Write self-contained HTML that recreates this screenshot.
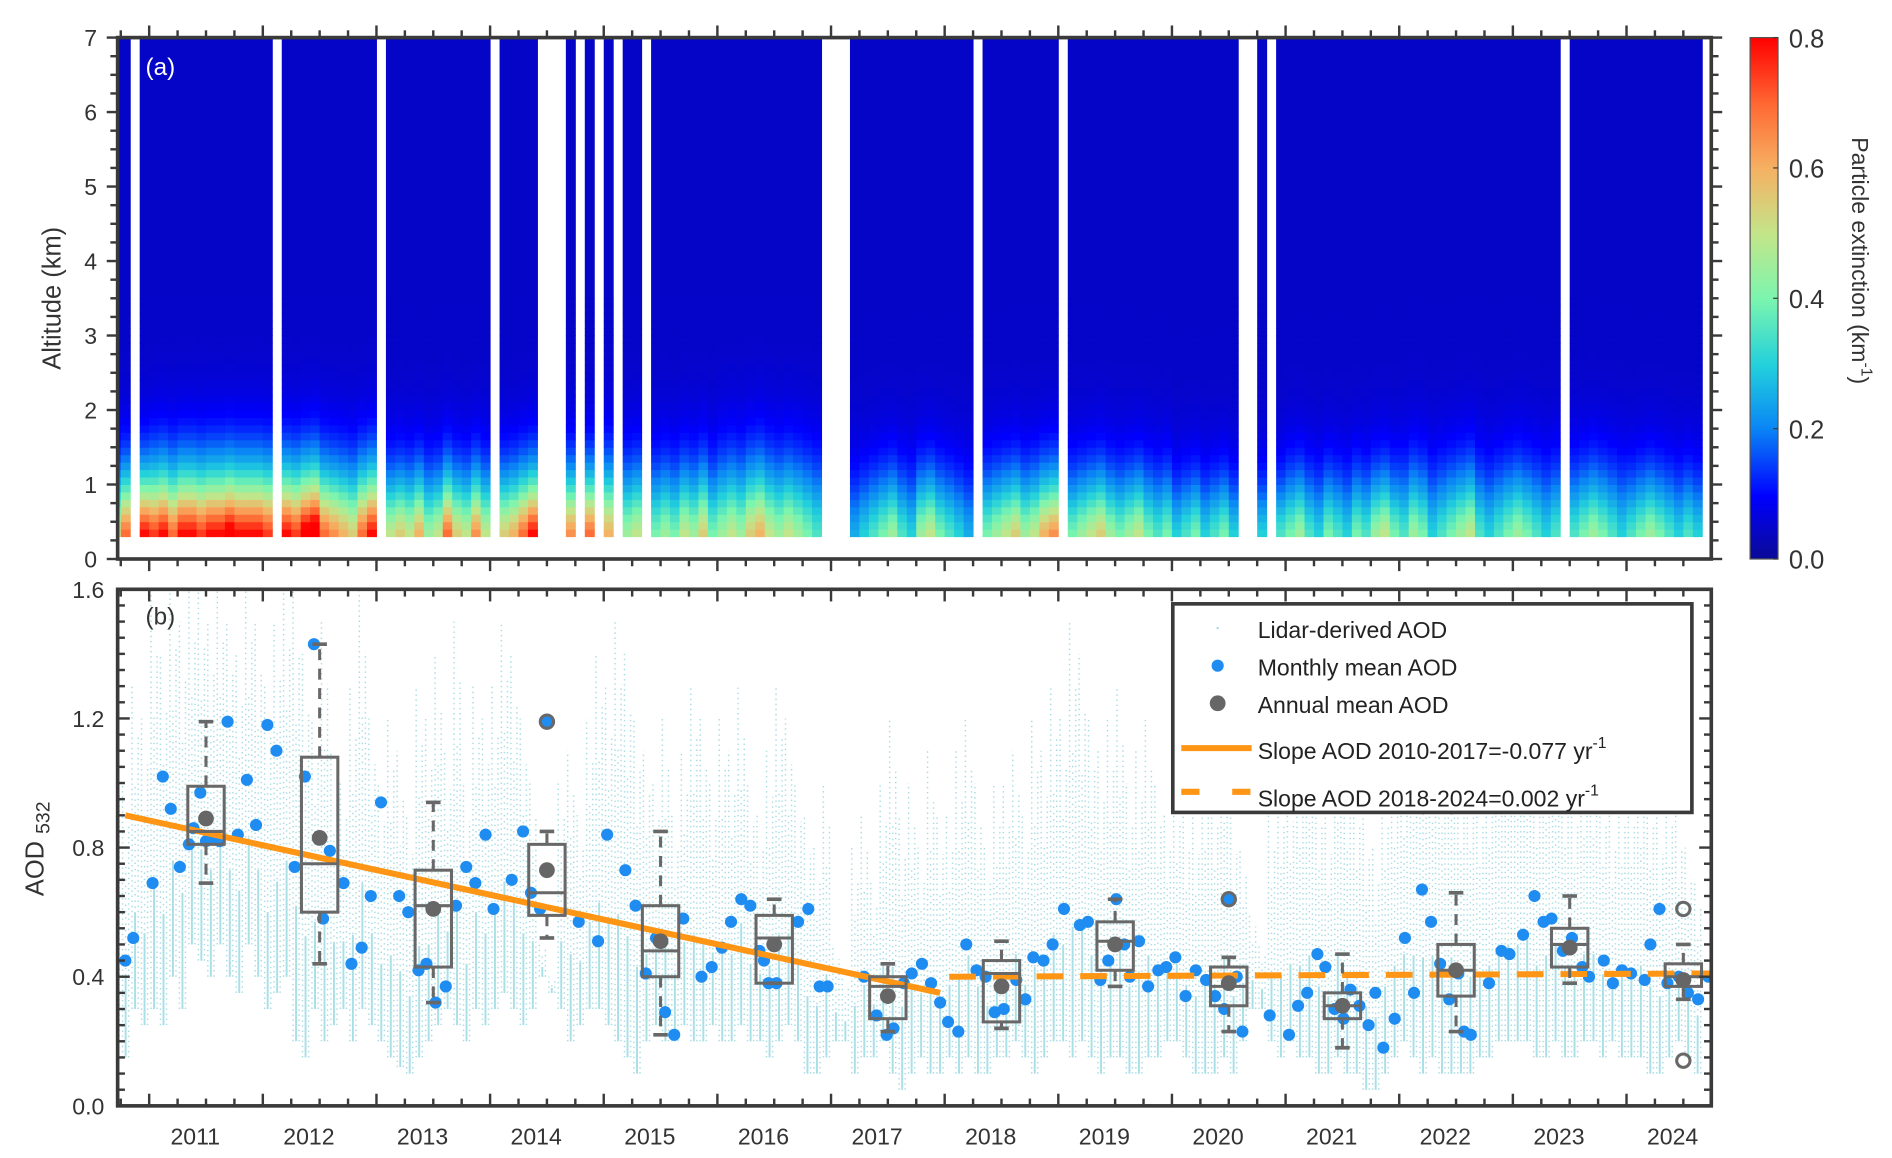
<!DOCTYPE html>
<html><head><meta charset="utf-8">
<style>
html,body{margin:0;padding:0;background:#fff;}
svg{display:block;font-family:"Liberation Sans",sans-serif;}
</style></head>
<body>
<svg id="chart" width="1892" height="1158" viewBox="0 0 1560 955" preserveAspectRatio="none" xmlns="http://www.w3.org/2000/svg">
<defs>
<clipPath id="clipA"><rect x="97" y="31" width="1314" height="430"/></clipPath>
<clipPath id="clipB"><rect x="97" y="486" width="1314" height="426"/></clipPath>
<linearGradient id="cbGrad" x1="0" y1="1" x2="0" y2="0">
<stop offset="0" stop-color="#0a0a96"/><stop offset="0.12" stop-color="#0000ff"/><stop offset="0.25" stop-color="#0a86f5"/><stop offset="0.37" stop-color="#22d0dc"/><stop offset="0.5" stop-color="#7cf5ae"/><stop offset="0.62" stop-color="#c2e68a"/><stop offset="0.75" stop-color="#f6b062"/><stop offset="0.87" stop-color="#ff6a34"/><stop offset="1" stop-color="#ff0000"/>
</linearGradient>
</defs>
<g id="heat" clip-path="url(#clipA)"></g>
<g id="lidar" clip-path="url(#clipB)"></g>
<g id="marks" clip-path="url(#clipB)"></g>
<g id="axes"></g>
</svg>
<script>
// ---------- data ----------
const monthStart = 2010 + 8/12; // Sep 2010
const surface = [0.5,0.7,null,0.8,0.75,0.8,0.7,0.8,0.8,0.75,0.8,0.8,0.85,0.8,0.8,0.8,0.75,
 null,0.8,0.75,0.85,0.9,0.7,0.65,0.6,0.55,0.7,0.8,
 null,0.5,0.55,0.5,0.6,0.45,0.5,0.7,0.55,0.5,0.65,0.5,
 null,0.55,0.6,0.7,0.8,null,null,null,0.65,null,0.7,null,0.6,null,0.45,0.5,null,
 0.4,0.45,0.4,0.5,0.45,0.55,0.4,0.45,0.5,0.45,0.55,0.6,0.5,0.45,0.5,0.45,0.4,0.35,
 null,null,null,
 0.25,0.3,0.35,0.4,0.45,0.35,0.3,0.45,0.5,0.4,0.35,0.3,0.25,
 null,0.4,0.45,0.5,0.55,0.45,0.5,0.6,0.65,
 null,0.4,0.45,0.5,0.55,0.45,0.4,0.45,0.5,0.4,0.35,0.4,0.3,0.35,0.4,0.3,0.35,0.4,0.3,
 null,null,0.3,null,
 0.35,0.4,0.45,0.35,0.3,0.4,0.35,0.3,0.4,0.35,0.45,0.5,0.4,0.35,0.45,0.4,0.3,0.35,0.4,0.45,0.5,0.35,0.3,0.35,0.4,0.45,0.4,0.35,0.3,0.35,
 null,0.35,0.4,0.45,0.4,0.35,0.3,0.35,0.4,0.45,0.4,0.35,0.3,0.35,0.3];
const layerYears = [2010,2011,2012,2013,2014,2015,2016,2017,2018,2019,2020,2021,2022,2023,2024];
const layerDepth = [0.8,0.85,0.85,0.8,0.8,0.85,0.9,0.8,0.8,0.8,0.75,0.8,0.85,0.85,0.8];
const background = 0.045;

const lidarHi = [1.1,1.0,1.3,1.2,
 1.6,1.4,1.6,1.5,1.6,1.6,1.5,1.6,1.5,1.4,1.6,1.5,
 1.3,1.5,1.6,1.6,1.4,1.2,1.5,1.1,1.0,1.3,1.6,1.2,
 1.0,1.2,1.1,0.9,1.3,1.2,1.4,1.1,1.5,1.0,1.3,1.2,
 1.3,1.5,1.4,1.2,1.0,0.5,0.4,1.0,1.1,0.9,1.2,1.4,
 1.3,1.5,1.4,1.2,1.1,1.0,1.2,0.9,1.1,1.3,1.2,1.0,
 1.2,1.1,1.3,1.0,0.9,1.1,1.3,1.2,1.0,0.9,0.8,1.0,
 0.5,0.4,0.8,0.9,0.7,1.0,1.2,0.9,1.0,0.8,1.1,0.9,
 0.9,1.1,1.2,1.0,0.8,1.0,1.0,1.1,0.9,1.2,1.1,1.3,
 1.2,1.5,1.4,1.2,1.1,1.2,1.3,1.0,1.1,1.2,1.0,0.9,
 1.0,0.9,0.9,1.1,1.0,1.2,0.9,0.8,0.6,0.5,0.9,1.0,
 1.0,1.1,1.2,1.0,0.9,1.2,1.1,1.0,0.9,0.8,1.0,1.1,
 1.1,1.2,1.3,1.2,1.2,1.3,1.1,1.1,1.0,1.1,1.2,1.2,
 1.2,1.3,1.1,1.2,1.2,1.1,1.0,1.1,1.1,1.0,0.9,1.0,
 1.0,1.1,1.0,0.9,1.0,0.9,0.8,0.7];
const lidarLo = [0.2,0.15,0.3,0.25,
 0.3,0.25,0.4,0.3,0.5,0.45,0.4,0.5,0.4,0.35,0.5,0.4,
 0.3,0.35,0.4,0.2,0.15,0.3,0.2,0.25,0.3,0.2,0.3,0.25,
 0.2,0.15,0.12,0.1,0.15,0.2,0.25,0.3,0.25,0.2,0.3,0.25,
 0.3,0.35,0.3,0.25,0.3,0.4,0.35,0.3,0.2,0.25,0.3,0.3,
 0.25,0.2,0.15,0.1,0.2,0.25,0.2,0.2,0.25,0.2,0.2,0.25,
 0.2,0.2,0.25,0.2,0.2,0.15,0.2,0.25,0.2,0.1,0.1,0.15,
 0.2,0.2,0.1,0.15,0.15,0.2,0.1,0.05,0.1,0.15,0.1,0.1,
 0.15,0.1,0.15,0.1,0.1,0.15,0.15,0.2,0.15,0.1,0.15,0.2,
 0.2,0.15,0.2,0.15,0.1,0.15,0.15,0.1,0.1,0.15,0.15,0.2,
 0.2,0.15,0.1,0.1,0.1,0.15,0.1,0.2,0.3,0.3,0.2,0.15,
 0.2,0.15,0.15,0.1,0.1,0.15,0.1,0.1,0.05,0.05,0.1,0.15,
 0.2,0.15,0.1,0.15,0.1,0.1,0.1,0.1,0.15,0.15,0.2,0.2,
 0.2,0.2,0.15,0.15,0.2,0.15,0.15,0.2,0.2,0.15,0.2,0.15,
 0.15,0.15,0.1,0.1,0.15,0.2,0.15,0.1];

const monthT = [2010.79,2010.86,2011.03,2011.12,2011.19,2011.27,2011.35,2011.39,2011.45,2011.50,2011.58,2011.62,2011.69,2011.78,2011.86,2011.94,
 2012.04,2012.12,2012.28,2012.37,2012.45,2012.53,2012.59,2012.71,2012.78,2012.87,2012.95,
 2013.04,2013.20,2013.28,2013.37,2013.44,2013.52,2013.61,2013.70,2013.79,2013.87,2013.96,
 2014.03,2014.19,2014.29,2014.36,2014.44,2014.50,2014.78,2014.95,
 2015.03,2015.19,2015.28,2015.37,2015.46,2015.54,2015.62,2015.70,2015.86,2015.95,
 2016.04,2016.12,2016.21,2016.29,2016.37,2016.41,2016.45,2016.52,2016.71,2016.80,2016.90,2016.97,
 2017.29,2017.40,2017.49,2017.55,2017.64,2017.71,2017.80,2017.88,2017.96,
 2018.03,2018.12,2018.19,2018.28,2018.36,2018.44,2018.52,2018.63,2018.71,2018.78,2018.87,2018.95,
 2019.05,2019.19,2019.26,2019.37,2019.44,2019.51,2019.58,2019.63,2019.71,2019.79,2019.88,2019.95,
 2020.03,2020.12,2020.21,2020.30,2020.38,2020.46,2020.50,2020.57,2020.62,2020.86,
 2021.03,2021.11,2021.19,2021.28,2021.35,2021.43,2021.51,2021.57,2021.65,2021.73,2021.79,2021.86,2021.96,
 2022.05,2022.13,2022.20,2022.28,2022.36,2022.44,2022.52,2022.57,2022.63,2022.79,2022.90,2022.97,
 2023.09,2023.19,2023.27,2023.34,2023.44,2023.52,2023.61,2023.67,2023.80,2023.88,2023.96,
 2024.04,2024.16,2024.21,2024.29,2024.36,2024.46,2024.54,2024.63,2024.72];
const monthAOD = [0.45,0.52,0.69,1.02,0.92,0.74,0.81,0.86,0.97,0.82,0.83,0.82,1.19,0.84,1.01,0.87,
 1.18,1.10,0.74,1.02,1.43,0.58,0.79,0.69,0.44,0.49,0.65,
 0.94,0.65,0.60,0.42,0.44,0.32,0.37,0.62,0.74,0.69,0.84,
 0.61,0.70,0.85,0.66,0.61,1.19,0.57,0.51,
 0.84,0.73,0.62,0.41,0.52,0.29,0.22,0.58,0.40,0.43,
 0.49,0.57,0.64,0.62,0.48,0.45,0.38,0.38,0.57,0.61,0.37,0.37,
 0.40,0.28,0.22,0.24,0.38,0.41,0.44,0.38,0.32,
 0.26,0.23,0.50,0.42,0.40,0.29,0.30,0.39,0.33,0.46,0.45,0.50,
 0.61,0.56,0.57,0.39,0.45,0.64,0.50,0.40,0.51,0.37,0.42,0.43,
 0.46,0.34,0.42,0.39,0.34,0.30,0.64,0.40,0.23,0.28,
 0.22,0.31,0.35,0.47,0.43,0.30,0.27,0.36,0.31,0.25,0.35,0.18,0.27,
 0.52,0.35,0.67,0.57,0.44,0.33,0.41,0.23,0.22,0.38,0.48,0.47,
 0.53,0.65,0.57,0.58,0.48,0.52,0.43,0.40,0.45,0.38,0.42,
 0.41,0.39,0.50,0.61,0.38,0.40,0.35,0.33,0.40];

const boxYears = [2011,2012,2013,2014,2015,2016,2017,2018,2019,2020,2021,2022,2023,2024];
const boxQ1 = [0.81,0.60,0.43,0.59,0.40,0.38,0.27,0.26,0.42,0.31,0.27,0.34,0.43,0.37];
const boxQ3 = [0.99,1.08,0.73,0.81,0.62,0.59,0.40,0.45,0.57,0.43,0.35,0.50,0.55,0.44];
const boxMedian = [0.85,0.75,0.62,0.66,0.48,0.52,0.37,0.41,0.51,0.37,0.31,0.42,0.50,0.40];
const annualMean = [0.89,0.83,0.61,0.73,0.51,0.50,0.34,0.37,0.50,0.38,0.31,0.42,0.49,0.39];
const whiskerLo = [0.69,0.44,0.32,0.52,0.22,0.38,0.23,0.24,0.37,0.23,0.18,0.23,0.38,0.33];
const whiskerHi = [1.19,1.43,0.94,0.85,0.85,0.64,0.44,0.51,0.64,0.46,0.47,0.66,0.65,0.50];
const outlierT = [2014.5,2020.5,2024.5,2024.5];
const outlierV = [1.19,0.64,0.61,0.14];

const trend1T = [2010.79,2017.96];
const trend1V = [0.90,0.35];
const trend2T = [2018.04,2024.75];
const trend2V = [0.40,0.41];

const xTickYears = [2011,2012,2013,2014,2015,2016,2017,2018,2019,2020,2021,2022,2023,2024];
const altTicks = [0,1,2,3,4,5,6,7];
const aodTicks = [0.0,0.4,0.8,1.2,1.6];
const cbTicks = [0.0,0.2,0.4,0.6,0.8];

// ---------- scales ----------
const X0 = 97, X1 = 1411;
const xs = t => 123 + (t - 2011) * 93.7;
const ya = z => 461 - z * 61.43;
const yb = v => 912 - v * 266.25;
const ycb = v => 461 - v / 0.8 * 430;
const NS = 'http://www.w3.org/2000/svg';
function mk(tag, attrs, parent){ const e=document.createElementNS(NS,tag); for(const k in attrs) e.setAttribute(k,attrs[k]); parent.appendChild(e); return e; }

const stops = [[0,[10,10,150]],[0.12,[0,0,255]],[0.25,[10,134,245]],[0.37,[34,208,220]],[0.5,[124,245,174]],[0.62,[194,230,138]],[0.75,[246,176,98]],[0.87,[255,106,52]],[1,[255,0,0]]];
function cmap(v){
  let f=Math.max(0,Math.min(1,v/0.8));
  for(let i=1;i<stops.length;i++){ if(f<=stops[i][0]){ const a=stops[i-1],b=stops[i]; const u=(f-a[0])/(b[0]-a[0]);
    return 'rgb('+a[1].map((c,j)=>Math.round(c+(b[1][j]-c)*u)).join(',')+')'; } }
  return 'rgb(255,0,0)';
}

// ---------- heatmap ----------
const heat = document.getElementById('heat');
const mw = 93.7/12;
surface.forEach((s,m)=>{
  if(s===null) return;
  const t0 = monthStart + m/12;
  const x = xs(t0);
  const yr = Math.floor(t0 + 0.5/12);
  const depth = layerDepth[Math.max(0, layerYears.indexOf(yr))];
  const col = mk('g',{},heat);
  
  
  const top = mk('rect',{x:x, y:ya(7), width:mw+0.4, height:ya(3.5)-ya(7)+0.4, fill:cmap(background)},col);
  
  
  for(let z=0.3; z<3.5-1e-6; z+=0.1){
    const u = (z+0.05-0.3)/depth;
    const v = background + (s-background)*Math.exp(-Math.pow(u,1.5));
    const r = mk('rect',{x:x, y:ya(z+0.1), width:mw+0.4, height:ya(z)-ya(z+0.1)+0.4, fill:cmap(v)},col);
    
    
  }
});

// ---------- lidar streaks ----------
const lid = document.getElementById('lidar');
lidarHi.forEach((hi,m)=>{
  const lo = lidarLo[m];
  const x = xs(monthStart + m/12);
  for(let k=0;k<3;k++){
    const frac = [1,0.7,0.85][k];
    const l = mk('line',{x1:x+1.5+k*2.5, x2:x+1.5+k*2.5, y1:yb(lo), y2:yb(lo+(hi-lo)*frac), stroke:'#a9dde3', 'stroke-width':1.2, 'stroke-dasharray': k%2? '1.2 4':'1.2 3'},lid);
    
    
  }
  const c = mk('line',{x1:x+4, x2:x+4, y1:yb(lo), y2:yb(lo+(hi-lo)*0.3), stroke:'#aadfe6', 'stroke-width':1.6},lid);
  
  
});

// ---------- marks ----------
const marks = document.getElementById('marks');
monthT.forEach((t,i)=>{
  const d = mk('circle',{cx:xs(t), cy:yb(monthAOD[i]), r:5, fill:'#1e8cf0'},marks);
  
  
});
const tl1 = mk('line',{x1:xs(trend1T[0]),y1:yb(trend1V[0]),x2:xs(trend1T[1]),y2:yb(trend1V[1]),stroke:'#ff9514','stroke-width':5},marks);


const tl2 = mk('line',{x1:xs(trend2T[0]),y1:yb(trend2V[0]),x2:xs(trend2T[1]),y2:yb(trend2V[1]),stroke:'#ff9514','stroke-width':5,'stroke-dasharray':'22 14'},marks);


boxYears.forEach((yv,i)=>{
  const cx = xs(yv+0.5), w=15, gc='#686868';
  const g = mk('g',{},marks);
  
  
  mk('line',{x1:cx,x2:cx,y1:yb(boxQ3[i]),y2:yb(whiskerHi[i]),stroke:gc,'stroke-width':2.5,'stroke-dasharray':'9 7'},g);
  mk('line',{x1:cx,x2:cx,y1:yb(boxQ1[i]),y2:yb(whiskerLo[i]),stroke:gc,'stroke-width':2.5,'stroke-dasharray':'9 7'},g);
  mk('line',{x1:cx-6,x2:cx+6,y1:yb(whiskerHi[i]),y2:yb(whiskerHi[i]),stroke:gc,'stroke-width':3},g);
  mk('line',{x1:cx-6,x2:cx+6,y1:yb(whiskerLo[i]),y2:yb(whiskerLo[i]),stroke:gc,'stroke-width':3},g);
  mk('rect',{x:cx-w,y:yb(boxQ3[i]),width:2*w,height:yb(boxQ1[i])-yb(boxQ3[i]),fill:'none',stroke:gc,'stroke-width':2.5},g);
  mk('line',{x1:cx-w,x2:cx+w,y1:yb(boxMedian[i]),y2:yb(boxMedian[i]),stroke:gc,'stroke-width':2.5},g);
  const am = mk('circle',{cx:cx,cy:yb(annualMean[i]),r:6.5,fill:'#666'},g);
  
  
});
outlierT.forEach((t,i)=>{
  const o = mk('circle',{cx:xs(t),cy:yb(outlierV[i]),r:5.5,fill:'none',stroke:'#686868','stroke-width':2.5},marks);
  
  
});

// ---------- axes ----------
const ax = document.getElementById('axes');
const AC = '#3a3a3a';
function tick(x1,y1,x2,y2,w){ const t=mk('line',{x1,y1,x2,y2,stroke:AC,'stroke-width':w||2},ax);   }
function txt(s,x,y,attrs){ const t=mk('text',Object.assign({x,y,'font-size':19,fill:'#333'},attrs||{}),ax); t.textContent=s; return t; }
for(let q=0;q<=60;q++){
  const t = 2010 + q*0.25; const x = xs(t); if(x<X0||x>X1) continue;
  const major = q%4===0; const L = major?10:6;
  tick(x,31,x,31-L); tick(x,461,x,461+L);
  tick(x,486,x,486+L); tick(x,912,x,912-L);
}
for(let z=0; z<=7.001; z+=0.25){
  const major = Math.abs(z-Math.round(z))<1e-6; const L = major?9:6;
  tick(X0,ya(z),X0-L,ya(z)); tick(X1,ya(z),X1+L,ya(z));
}
for(let v=0; v<=1.6001; v+=0.05){
  const major = Math.abs(v/0.4-Math.round(v/0.4))<1e-6; const L = major?10:6;
  tick(X0,yb(v),X0+L,yb(v)); tick(X1,yb(v),X1-L,yb(v));
}
const fa = mk('rect',{x:X0,y:31,width:X1-X0,height:430,fill:'none',stroke:AC,'stroke-width':3},ax);
 
const fb = mk('rect',{x:X0,y:486,width:X1-X0,height:426,fill:'none',stroke:AC,'stroke-width':3},ax);
 
altTicks.forEach(z=>{ const t=txt(String(z),80,ya(z)+7,{'text-anchor':'end'});   });
aodTicks.forEach(v=>{ const t=txt(v.toFixed(1),86,yb(v)+7,{'text-anchor':'end'});   });
xTickYears.forEach(yv=>{ const t=txt(String(yv),xs(yv)+38,944,{'text-anchor':'middle'});   });
const pa = txt('(a)',120,62,{'font-size':20,fill:'#fff'});  
const pb = txt('(b)',120,515,{'font-size':20});  
const yla = txt('Altitude (km)',0,0,{'font-size':21,'text-anchor':'middle',transform:'translate(50,246) rotate(-90)'});  
const ylb = mk('text',{'font-size':21,fill:'#333','text-anchor':'middle',transform:'translate(36,700) rotate(-90)'},ax);
 
ylb.innerHTML = 'AOD <tspan font-size="16" dy="5">532</tspan>';
const cb = mk('rect',{x:1443,y:31,width:23,height:430,fill:'url(#cbGrad)',stroke:'#555','stroke-width':1},ax);
 
cbTicks.forEach(v=>{ tick(1466,ycb(v),1462,ycb(v),1); const t=txt(v.toFixed(1),1475,ycb(v)+8,{'font-size':21});   });
const cbl = mk('text',{'font-size':19,fill:'#333','text-anchor':'middle',transform:'translate(1527,215) rotate(90)'},ax);
 
cbl.innerHTML = 'Particle extinction (km<tspan font-size="13" dy="-8">-1</tspan><tspan dy="8">)</tspan>';
const lg = mk('g',{},ax);
 
mk('rect',{x:967,y:498,width:428,height:172,fill:'#fff',stroke:AC,'stroke-width':3},lg);
const lt = (s,y)=>{ const t=mk('text',{x:1037,y:y,'font-size':19,fill:'#222'},lg); t.innerHTML=s;   };
mk('circle',{cx:1004,cy:518,r:1,fill:'#a9dde3'},lg);
lt('Lidar-derived AOD',526);
mk('circle',{cx:1004,cy:549,r:5,fill:'#1e8cf0'},lg);
lt('Monthly mean AOD',557);
mk('circle',{cx:1004,cy:580,r:6.5,fill:'#666'},lg);
lt('Annual mean AOD',588);
mk('line',{x1:974,x2:1032,y1:617,y2:617,stroke:'#ff9514','stroke-width':5},lg);
lt('Slope AOD 2010-2017=-0.077 yr<tspan font-size="13" dy="-9">-1</tspan>',626);
mk('line',{x1:974,x2:1032,y1:653,y2:653,stroke:'#ff9514','stroke-width':5,'stroke-dasharray':'15 27'},lg);
lt('Slope AOD 2018-2024=0.002 yr<tspan font-size="13" dy="-9">-1</tspan>',665);
</script>
</body></html>
